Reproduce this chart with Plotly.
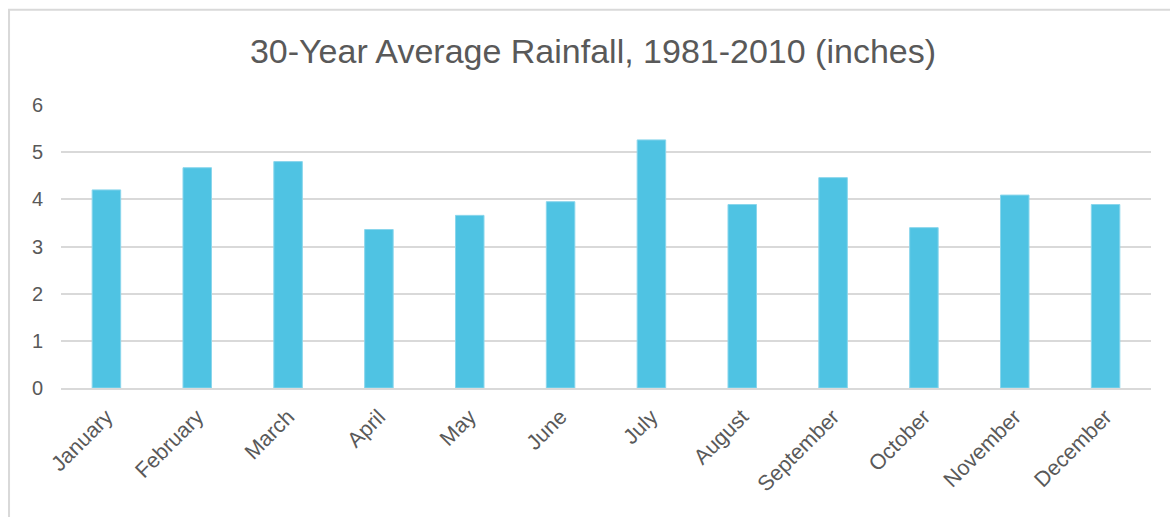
import plotly.graph_objects as go

# Monthly 30-year normal rainfall (inches)
months = ["January", "February", "March", "April", "May", "June",
          "July", "August", "September", "October", "November", "December"]
rainfall = [4.20, 4.67, 4.80, 3.36, 3.66, 3.95, 5.26, 3.89, 4.46, 3.40, 4.09, 3.89]
y_ticks = [0, 1, 2, 3, 4, 5, 6]

text_color = "#595959"
grid_color = "#d9d9d9"

fig = go.Figure(
    go.Bar(
        x=months,
        y=rainfall,
        marker=dict(color="#4FC3E3", line=dict(color="#8ad6ec", width=1)),
        hoverinfo="x+y",
    )
)

W, H = 1170, 517
ml, mr, mt, mb = 60.5, 19, 104.5, 129
pw = W - ml - mr
ph = H - mt - mb

fig.update_layout(
    width=W,
    height=H,
    margin=dict(l=ml, r=mr, t=mt, b=mb, pad=0),
    paper_bgcolor="white",
    plot_bgcolor="white",
    bargap=0.686,
    showlegend=False,
    title=dict(
        text="30-Year Average Rainfall, 1981-2010 (inches)",
        x=593 / W,
        xanchor="center",
        xref="container",
        y=1 - 51 / H,
        yanchor="middle",
        font=dict(family="Liberation Sans Narrow, Arial Narrow, Liberation Sans, sans-serif",
                  size=34, color=text_color),
    ),
    font=dict(family="Liberation Sans, Arial, sans-serif", color=text_color),
)

fig.update_xaxes(
    tickangle=-45,
    tickfont=dict(size=21.5, color=text_color),
    showgrid=False,
    showline=True,
    linecolor=grid_color,
    linewidth=1.5,
    ticks="outside",
    ticklen=6,
    tickcolor="rgba(0,0,0,0)",
    fixedrange=True,
)

fig.update_yaxes(
    range=[0, 6],
    tickvals=y_ticks,
    tickfont=dict(size=20, color=text_color),
    showgrid=True,
    gridcolor=grid_color,
    gridwidth=1.5,
    zeroline=False,
    showline=False,
    ticks="",
    ticklabelstandoff=17,
    fixedrange=True,
)

# Outer chart frame (left and top edges visible)
fig.add_shape(
    type="rect",
    xref="paper", yref="paper",
    x0=(8.5 - ml) / pw, x1=(W + 20 - ml) / pw,
    y0=-(mb + 20) / ph, y1=(H - 9 - mb) / ph,
    line=dict(color="#d9d9d9", width=2),
    fillcolor="rgba(0,0,0,0)",
    layer="below",
)

fig.write_html("out.html")
